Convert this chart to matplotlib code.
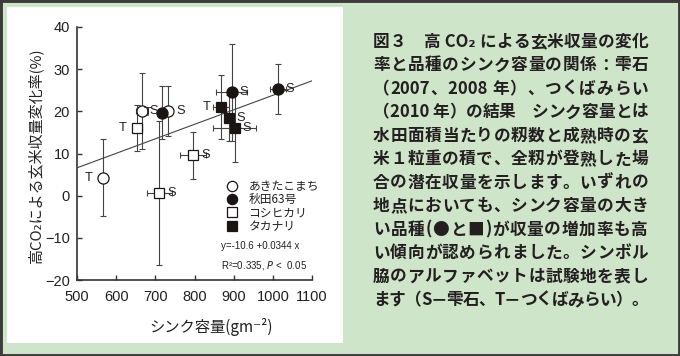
import matplotlib
matplotlib.use("Agg")
import matplotlib.pyplot as plt
from matplotlib.patches import Rectangle
from matplotlib.lines import Line2D
from matplotlib.font_manager import FontProperties

# ---------------- data ----------------
varieties = ["あきたこまち", "秋田63号", "コシヒカリ", "タカナリ"]

akita_x = [567, 665, 733]
akita_y = [4.3, 20.1, 20.1]
akita_xerr = [12, 15, 4]
akita_yerr = [9.1, 9.0, 6.0]
akita_site = ["T", "S", "S"]

akita63_x = [718, 895, 1013]
akita63_y = [19.7, 24.5, 25.3]
akita63_xerr = [5, 40, 20]
akita63_yerr = [6.3, 11.5, 6.0]
akita63_site = ["T", "S", "S"]

koshi_x = [654, 797, 710]
koshi_y = [16.0, 9.6, 0.6]
koshi_xerr = [12, 33, 32]
koshi_yerr = [5.5, 5.6, 17.0]
koshi_site = ["T", "S", "S"]

takanari_x = [867, 888, 903]
takanari_y = [21.1, 18.4, 16.0]
takanari_xerr = [20, 8, 55]
takanari_yerr = [7.6, 5.5, 8.0]
takanari_site = ["T", "S", "S"]

reg_intercept = -10.6
reg_slope = 0.0344
reg_xrange = [500, 1100]

xticks = [500, 600, 700, 800, 900, 1000, 1100]
yticks = [-20, -10, 0, 10, 20, 30, 40]

ylabel = "高CO₂による玄米収量変化率(%)"
xlabel = "シンク容量(gm⁻²)"
eq1 = "y=-10.6 +0.0344 x"
eq2 = "R²=0.335, $\\it{P}$ <  0.05"

caption_lines = [
    "図３　高 CO₂ による玄米収量の変化",
    "率と品種のシンク容量の関係：雫石",
    "（2007、2008 年）、つくばみらい",
    "（2010 年）の結果　シンク容量とは",
    "水田面積当たりの籾数と成熟時の玄",
    "米１粒重の積で、全籾が登熟した場",
    "合の潜在収量を示します。いずれの",
    "地点においても、シンク容量の大き",
    "い品種(●と■)が収量の増加率も高",
    "い傾向が認められました。シンボル",
    "脇のアルファベットは試験地を表し",
    "ます（S－雫石、T－つくばみらい）。",
]

# ---------------- figure ----------------
W, H = 680, 356
BG = "#cfe5c9"
INK = "#231f20"
fig = plt.figure(figsize=(W / 100, H / 100), dpi=100, facecolor=BG)

def fx(px):
    return px / W

def fy(py):
    return 1 - py / H

# white panel
fig.patches.append(Rectangle((fx(7), fy(343)), fx(343) - fx(7), fy(7) - fy(343),
                             transform=fig.transFigure, facecolor="white",
                             edgecolor="none", zorder=-5))
# outer frame
fig.patches.append(Rectangle((0, 0), 1, 1, transform=fig.transFigure,
                             facecolor="none", edgecolor="#3c3c3c", linewidth=3.5, zorder=10))

jp = ["Noto Sans CJK JP", "DejaVu Sans"]
num = ["Liberation Sans", "Noto Sans CJK JP", "DejaVu Sans"]

ax = fig.add_axes([fx(77), fy(280), fx(312) - fx(77), fy(27) - fy(280)])
ax.set_zorder(2)
ax.set_facecolor("none")
ax.set_xlim(500, 1100)
ax.set_ylim(-20, 40)
ax.set_xticks(xticks)
ax.set_yticks(yticks)
for s in ["top", "right"]:
    ax.spines[s].set_visible(False)
for s in ["left", "bottom"]:
    ax.spines[s].set_linewidth(1.2)
    ax.spines[s].set_color("#333333")
ax.tick_params(direction="in", length=3.5, width=1.0, color="#333333",
               labelsize=10.5, labelcolor=INK)
ax.tick_params(axis="x", pad=7)
ax.tick_params(axis="y", pad=5)
for lab in ax.get_xticklabels() + ax.get_yticklabels():
    lab.set_fontfamily(num)

# regression line
ax.plot(reg_xrange, [reg_intercept + reg_slope * v for v in reg_xrange],
        color="#444444", lw=0.8, zorder=2)

groups = [
    (akita_x, akita_y, akita_xerr, akita_yerr, akita_site, "o", "white"),
    (akita63_x, akita63_y, akita63_xerr, akita63_yerr, akita63_site, "o", "#1a1414"),
    (koshi_x, koshi_y, koshi_xerr, koshi_yerr, koshi_site, "s", "white"),
    (takanari_x, takanari_y, takanari_xerr, takanari_yerr, takanari_site, "s", "#1a1414"),
]
handles = []
for (xs, ys, xe, ye, sites, mk, fc), name in zip(groups, varieties):
    ax.errorbar(xs, ys, xerr=xe, yerr=ye, fmt="none", ecolor="#444444",
                elinewidth=0.8, capsize=2.5, capthick=0.8, zorder=3)
    ms = 8.0 if mk == "o" else 7.4
    ax.plot(xs, ys, linestyle="none", marker=mk, markersize=ms,
            markerfacecolor=fc, markeredgecolor="#1a1414", markeredgewidth=0.9, zorder=4)
    for x, y, s in zip(xs, ys, sites):
        dx = 8.8 if s == "S" else -10.4
        ax.annotate(s, (x, y), xytext=(dx, 0), textcoords="offset points",
                    ha="center", va="center", fontsize=9.3, color=INK,
                    fontfamily=num, zorder=5)
    handles.append(Line2D([], [], linestyle="none", marker=mk, markersize=ms - 0.6,
                          markerfacecolor=fc, markeredgecolor="#1a1414",
                          markeredgewidth=0.9, label=name))

leg = ax.legend(handles=handles, loc="upper left",
                bbox_to_anchor=((226 - 77) / 235, (280 - 180) / 253),
                frameon=False, prop=FontProperties(family=jp, size=8.5),
                handlelength=1.0, handletextpad=0.9, labelspacing=0.02,
                borderpad=0, borderaxespad=0)
for t in leg.get_texts():
    t.set_color(INK)

ax.text((221 - 77) / 235, (280 - 246) / 253, eq1, transform=ax.transAxes,
        fontsize=7, fontfamily=num, color=INK, ha="left", va="center")
ax.text((221 - 77) / 235, (280 - 266) / 253, eq2, transform=ax.transAxes,
        fontsize=7, fontfamily=num, color=INK, ha="left", va="center")

ax.set_xlabel(xlabel, fontsize=11, fontfamily=jp, color=INK, va="center")
ax.xaxis.set_label_coords((211 - 77) / 235, (280 - 327) / 253)

fig.text(fx(35), fy(156), ylabel, rotation=90, rotation_mode="anchor",
         ha="center", va="center", fontsize=10.8, fontfamily=jp, color=INK)

# ---------------- caption (justified) ----------------
cap_font = FontProperties(family=jp, size=12, weight="bold")
renderer = fig.canvas.get_renderer()

def tokens(line):
    out = []
    buf = ""
    for ch in line:
        if ord(ch) < 0x2000 or ch == "₂":
            buf += ch
        else:
            if buf:
                out.append(buf)
                buf = ""
            out.append(ch)
    if buf:
        out.append(buf)
    return out

x_left, x_right = 373, 648
y_first, y_last = 42, 300
n = len(caption_lines)
for i, line in enumerate(caption_lines):
    py = y_first + (y_last - y_first) * i / (n - 1)
    toks = tokens(line)
    widths = []
    for t in toks:
        w, h, d = renderer.get_text_width_height_descent(t, cap_font, ismath=False)
        widths.append(w)
    extra = (x_right - x_left - sum(widths)) / max(len(toks) - 1, 1)
    px = x_left
    for t, w in zip(toks, widths):
        fig.text(fx(px), fy(py), t, fontproperties=cap_font, color=INK,
                 ha="left", va="center")
        px += w + extra

fig.savefig("out.png", dpi=100, facecolor=BG)
